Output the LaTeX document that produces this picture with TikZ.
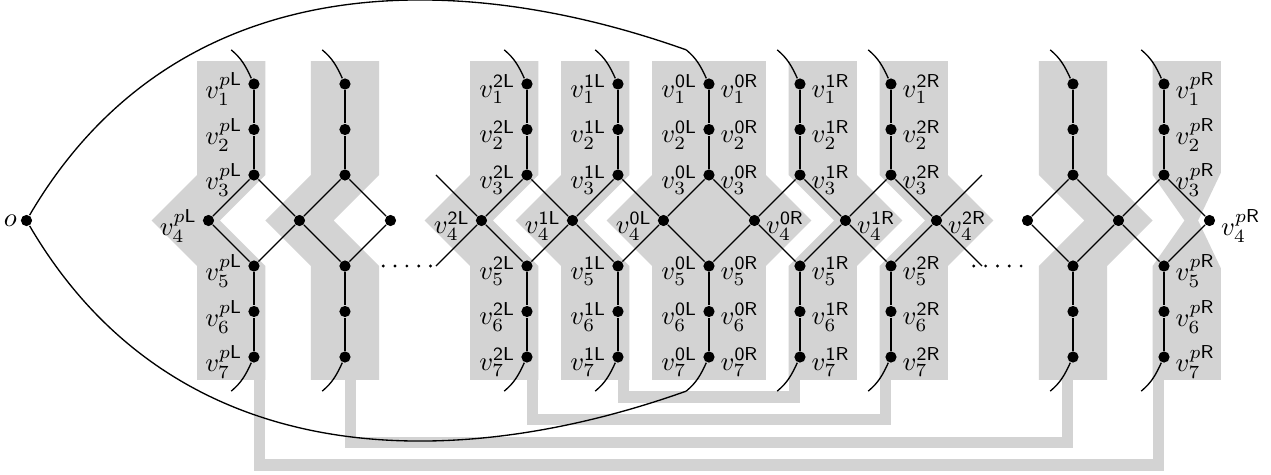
\documentclass[tikz,border=0pt]{standalone}
\definecolor{bandgray}{RGB}{211,211,211}

\begin{document}
\begin{tikzpicture}[
    x=0.6cm, y=0.6cm,
    line width=0.5pt,
    vtx/.style={circle, fill=black, inner sep=0pt, minimum size=4.2pt},
    lab/.style={inner sep=1.8pt, yshift=-2pt},
    band/.style={fill=bandgray},
    link/.style={draw=bandgray, line width=4.27pt},
    gapdots/.style={line width=1.2pt, line cap=round, dash pattern=on 0pt off 4.44pt}
  ]
  \useasboundingbox (-5.582,-5.593) rectangle (22.352,4.846);

  % Gray bands, chevron to the left
  \foreach \x/\a/\b in {0/-1.25/0.25, 2/-0.75/0.75, 6/-1.25/0.25, 8/-1.25/0.25}
    \fill[band] (\x+\a,3.5) -- (\x+\b,3.5) -- (\x+\b,1) -- (\x+\b-1,0)
      -- (\x+\b,-1) -- (\x+\b,-3.5) -- (\x+\a,-3.5) -- (\x+\a,-1)
      -- (\x+\a-1,0) -- (\x+\a,1) -- cycle;
  % Gray bands, chevron to the right
  \foreach \x/\a/\b in {12/-0.25/1.25, 14/-0.25/1.25, 18/-0.75/0.75}
    \fill[band] (\x+\a,3.5) -- (\x+\b,3.5) -- (\x+\b,1) -- (\x+\b+1,0)
      -- (\x+\b,-1) -- (\x+\b,-3.5) -- (\x+\a,-3.5) -- (\x+\a,-1)
      -- (\x+\a+1,0) -- (\x+\a,1) -- cycle;
  % Middle band and last band
  \fill[band] (8.75,3.5) -- (11.25,3.5) -- (11.25,1) -- (12.25,0)
    -- (11.25,-1) -- (11.25,-3.5) -- (8.75,-3.5) -- (8.75,-1)
    -- (7.75,0) -- (8.75,1) -- cycle;
  \fill[band] (19.75,3.5) -- (21.25,3.5) -- (21.25,1.05) -- (20.75,0)
    -- (21.25,-1.05) -- (21.25,-3.5) -- (19.75,-3.5) -- (19.75,-1)
    -- (20.45,0) -- (19.75,1) -- cycle;

  % Gray links below
  \draw[link] (0.125,-3.4) |- (19.875,-5.375) -- (19.875,-3.4);
  \draw[link] (2.125,-3.4) |- (17.875,-4.875) -- (17.875,-3.4);
  \draw[link] (6.125,-3.4) |- (13.875,-4.375) -- (13.875,-3.4);
  \draw[link] (8.125,-3.4) |- (11.875,-3.875) -- (11.875,-3.4);

  % Columns
  \foreach \c/\x in {pL/0, qL/2, 2L/6, 1L/8, 0/10, 1R/12, 2R/14, qR/18, pR/20} {
    \foreach \k/\y in {1/3, 2/2, 3/1, 5/-1, 6/-2, 7/-3}
      \node[vtx] (v\k-\c) at (\x,\y) {};
    \coordinate (top-\c) at (\x-0.5,3.75);
    \coordinate (bot-\c) at (\x-0.5,-3.75);
    \draw (v1-\c) -- (v2-\c) -- (v3-\c);
    \draw (v5-\c) -- (v6-\c) -- (v7-\c);
    \draw (v1-\c) to[out=115, in=-40] (top-\c);
    \draw (v7-\c) to[out=-115, in=40] (bot-\c);
  }

  % Middle vertices
  \node[vtx] (v4-pL) at (-1,0) {};
  \node[vtx] (x1) at (1,0) {};
  \node[vtx] (x3) at (3,0) {};
  \node[vtx] (v4-2L) at (5,0) {};
  \node[vtx] (v4-1L) at (7,0) {};
  \node[vtx] (v4-0L) at (9,0) {};
  \node[vtx] (v4-0R) at (11,0) {};
  \node[vtx] (v4-1R) at (13,0) {};
  \node[vtx] (v4-2R) at (15,0) {};
  \node[vtx] (x17) at (17,0) {};
  \node[vtx] (x19) at (19,0) {};
  \node[vtx] (v4-pR) at (21,0) {};
  \node[vtx] (o) at (-5,0) {};
  \node[inner sep=1pt, anchor=east] (lo) at (o.west) {$o$};

  % Diamonds
  \foreach \c/\a/\b in {pL/v4-pL/x1, qL/x1/x3, 2L/v4-2L/v4-1L, 1L/v4-1L/v4-0L,
      0/v4-0L/v4-0R, 1R/v4-0R/v4-1R, 2R/v4-1R/v4-2R, qR/x17/x19, pR/x19/v4-pR}
    \draw (\a) -- (v3-\c) -- (\b) -- (v5-\c) -- (\a);

  % Loose ends and dots
  \coordinate (e4t) at (4,1);
  \coordinate (e4b) at (4,-1);
  \coordinate (e16t) at (16,1);
  \coordinate (e16b) at (16,-1);
  \draw (e4t) -- (v4-2L) -- (e4b);
  \draw (e16t) -- (v4-2R) -- (e16b);
  \draw[gapdots] (2.84,-1) -- (4.14,-1);
  \draw[gapdots] (15.82,-1) -- (17.12,-1);

  % Long curves from o
  \draw (o) .. controls (-1.75,5.55) and (4.3,5.6) .. (top-0);
  \draw (o) .. controls (-1.75,-5.55) and (4.3,-5.6) .. (bot-0);

  % Labels
  \foreach \c/\s in {pL/p\mathsf{L}, 2L/\mathsf{2L}, 1L/\mathsf{1L}, 0/\mathsf{0L}}
    \foreach \k in {1,2,3,5,6,7}
      \node[lab, anchor=east] (ll\k-\c) at (v\k-\c.west) {$v_{\k}^{\s}$};
  \foreach \c/\s in {0/\mathsf{0R}, 1R/\mathsf{1R}, 2R/\mathsf{2R}, pR/p\mathsf{R}}
    \foreach \k in {1,2,3,5,6,7}
      \node[lab, anchor=west] (rl\k-\c) at (v\k-\c.east) {$v_{\k}^{\s}$};
  \foreach \c/\s in {pL/p\mathsf{L}, 2L/\mathsf{2L}, 1L/\mathsf{1L}, 0L/\mathsf{0L}}
    \node[lab, anchor=east] (ll4-\c) at (v4-\c.west) {$v_4^{\s}$};
  \foreach \c/\s in {0R/\mathsf{0R}, 1R/\mathsf{1R}, 2R/\mathsf{2R}, pR/p\mathsf{R}}
    \node[lab, anchor=west] (rl4-\c) at (v4-\c.east) {$v_4^{\s}$};
\end{tikzpicture}
\end{document}
